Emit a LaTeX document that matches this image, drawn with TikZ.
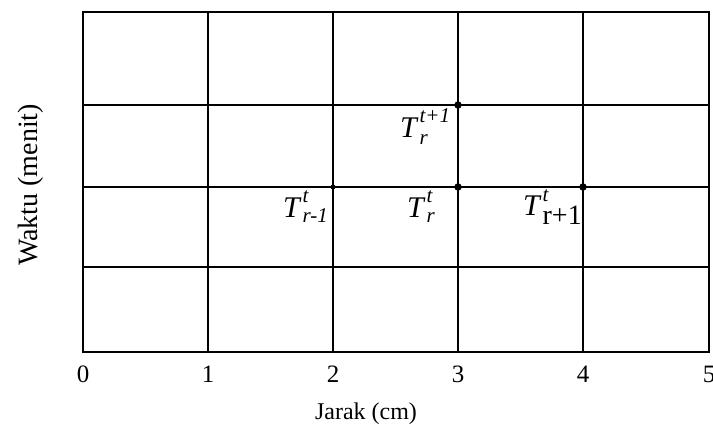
\documentclass[tikz,border=0pt]{standalone}
\usepackage{fontspec}
\setmainfont{Liberation Serif}
\newcommand\mklab[4]{\textit{T}\kern1pt\makebox[0pt][l]{\raisebox{#3}{\fontsize{21}{21}\selectfont\textit{#1}}}\raisebox{#4}{#2}}
\begin{document}
\begin{tikzpicture}[x=1pt,y=-1pt,
  gridline/.style={line width=1.4pt,black},
  dotmark/.style={circle,fill=black,inner sep=0pt,minimum size=7.5pt},
  smalldot/.style={circle,fill=black,inner sep=0pt,minimum size=5pt},
  lbl/.style={inner sep=0pt,anchor=base west,font=\fontsize{30}{34}\selectfont},
  ticklbl/.style={inner sep=0pt,font=\fontsize{25}{29}\selectfont},
  axlbl/.style={inner sep=0pt,font=\fontsize{24}{28}\selectfont}]
\useasboundingbox (0,0) rectangle (713,435);
\fill[white] (0,0) rectangle (713,435);
% grid
\draw[gridline] (83,12) rectangle (709,352);
\foreach \x in {208,333,458,583} \draw[gridline] (\x,12) -- (\x,352);
\foreach \y in {105,187,267} \draw[gridline] (83,\y) -- (709,\y);
% points
\node[smalldot] (p1) at (333,187) {};
\node[dotmark] (p2) at (458,187) {};
\node[dotmark] (p3) at (583,187) {};
\node[dotmark] (p4) at (458,105) {};
% labels
\node[lbl] (l1) at (283,218) {\mklab{t}{\fontsize{21}{21}\selectfont\textit{r-1}}{15pt}{-5pt}};
\node[lbl] (l2) at (407,218) {\mklab{t}{\fontsize{21}{21}\selectfont\textit{r}}{15pt}{-5pt}};
\node[lbl] (l3) at (523,216) {\mklab{t}{\fontsize{28}{30}\selectfont r+1}{14pt}{-9pt}};
\node[lbl] (l4) at (400,138) {\mklab{t+1}{\fontsize{21}{21}\selectfont\textit{r}}{15pt}{-7pt}};
% tick labels
\foreach \x/\t in {83/0,208/1,333/2,458/3,583/4,709/5}
  \node[ticklbl] (t\t) at (\x,374) {\t};
\node[axlbl] (xl) at (366,414) {Jarak (cm)};
\node[axlbl,font=\fontsize{28}{32}\selectfont,rotate=90] (yl) at (31,185) {Waktu (menit)};
\end{tikzpicture}
\end{document}
